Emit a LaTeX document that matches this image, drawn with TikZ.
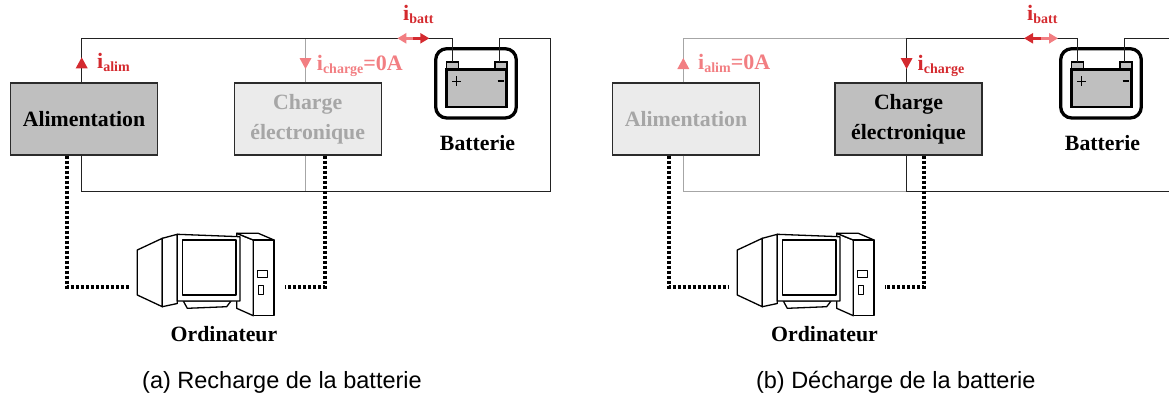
\documentclass[tikz,border=0pt]{standalone}
\usepackage{fontspec}
\setmainfont{Liberation Serif}
\setsansfont{Liberation Sans}
\usetikzlibrary{arrows.meta}

\definecolor{curred}{HTML}{D42A2F}
\definecolor{curpink}{HTML}{F27E82}
\definecolor{boxdark}{HTML}{BFBFBF}
\definecolor{boxlight}{HTML}{EBEBEB}
\definecolor{txtlight}{HTML}{A6A6A6}
\definecolor{wiregrey}{HTML}{A6A6A6}
\definecolor{wireblack}{HTML}{222222}
\definecolor{edgecol}{HTML}{2B2B2B}

% current label: i with a small subscript, then an optional suffix
\newcommand\ilbl[2]{i\raisebox{-3pt}{\fontsize{14}{14}\selectfont\bfseries #1}#2}

\tikzset{
  wire/.style={line width=1.1pt, draw=wireblack},
  wireoff/.style={line width=1.1pt, draw=wiregrey},
  unit/.style={draw=edgecol, line width=1.4pt, minimum width=147pt, minimum height=72pt,
    inner sep=0pt, align=center, font=\fontsize{21.8}{30}\selectfont\bfseries},
  uniton/.style={unit, fill=boxdark, text=black},
  unitoff/.style={unit, fill=boxlight, text=txtlight},
  devname/.style={font=\fontsize{21.8}{24}\selectfont\bfseries, inner sep=0pt},
  datalink/.style={line width=3.6pt, dash pattern=on 3pt off 2pt},
  lbl/.style={font=\fontsize{22}{24}\selectfont\bfseries, anchor=base west, inner sep=0pt},
  caption/.style={font=\sffamily\fontsize{23.5}{26}\selectfont, inner sep=0pt},
  battflow/.style={line width=3pt, -{Triangle[length=9pt,width=10pt]}},
  flowup/.pic={\fill (-6,5.5) -- (6,5.5) -- (0,-5.5) -- cycle;},
  flowdown/.pic={\fill (-6,-5.5) -- (6,-5.5) -- (0,5.5) -- cycle;},
  battery/.pic={
    \draw[line width=3.3pt, rounded corners=11pt] (-40.3,-34.6) rectangle (40.3,34.7);
    \filldraw[fill=boxdark, line width=1.4pt] (-29.5,-21.5) rectangle (-17.5,-15);
    \filldraw[fill=boxdark, line width=1.4pt] (19,-21.5) rectangle (31,-15);
    \filldraw[fill=boxdark, line width=2.3pt] (-29.5,-13.8) rectangle (30.5,23.9);
    \draw[line width=0.9pt] (-24,-2.3) -- (-14.6,-2.3) (-19.3,-7) -- (-19.3,2.4);
    \draw[line width=2pt] (21.5,-2.3) -- (28,-2.3);
    \coordinate (-plus) at (-23.5,-21.5);
    \coordinate (-minus) at (23.5,-21.5);
  },
  computer/.pic={
    \begin{scope}[line width=1.3pt, line join=round, fill=white]
      % tower
      \filldraw (236.7,233.3) -- (253.3,240) -- (253.3,315.7) -- (236.7,308.3) -- cycle;
      \filldraw (236.7,233.3) -- (258.3,233.3) -- (274,240) -- (253.3,240) -- cycle;
      \filldraw (253.3,240) rectangle (274,315.7);
      \draw[line width=1pt] (257.7,270.7) rectangle (267.7,277.7);
      \draw[line width=1pt] (258.3,285.7) rectangle (263.3,294);
      % monitor
      \filldraw (137.3,250) -- (162.3,238.3) -- (162.3,306.7) -- (137.3,295) -- cycle;
      \filldraw (162.3,238.3) -- (177.3,234.3) -- (177.3,303.5) -- (162.3,306.7) -- cycle;
      \filldraw (183.3,301) -- (187.3,308.3) -- (226.7,306.7) -- (231,301) -- cycle;
      \filldraw (177.3,234.3) -- (240,236.7) -- (240,301) -- (177.3,301) -- cycle;
      \draw (182.3,240) rectangle (236,295);
    \end{scope}
    \coordinate (-left) at (129,287);
    \coordinate (-right) at (285,287);
  },
}

\begin{document}
\begin{tikzpicture}[x=1pt, y=-1pt]
\useasboundingbox (0,0) rectangle (1169,397);
\clip (0,0) rectangle (1169,397);

% ---------- (a) battery charging ----------
\node[uniton] (alimA) at (84,119) {Alimentation};
\node[unitoff] (chgA) at (307.7,119) {Charge\\électronique};
\pic (batA) at (476,83.3) {battery};
\node[devname] (batlblA) at (477.5,143) {Batterie};
\pic (pcA) at (0,0) {computer};
\node[devname] (pclblA) at (224,334) {Ordinateur};

\coordinate (tlA) at (81.7,38.3);
\coordinate (blA) at (81.7,191.7);
\coordinate (brA) at (550.7,191.7);
\coordinate (trA) at (550.7,38.3);

\draw[wireoff] ([xshift=-2.2pt]chgA.north) -- ([xshift=-2.2pt]chgA.north |- tlA);
\draw[wireoff] ([xshift=-2.2pt]chgA.south) -- ([xshift=-2.2pt]chgA.south |- blA);
\draw[wire] ([xshift=-2.3pt]alimA.north) -- (tlA) -| (batA-plus);
\draw[wire] ([xshift=-2.3pt]alimA.south) -- (blA) -- (brA) -- (trA) -| (batA-minus);

\draw[datalink] ([xshift=-17pt]alimA.south) |- (pcA-left);
\draw[datalink] ([xshift=17.3pt]chgA.south) |- (pcA-right);

\pic[curred] at (81.7,62.8) {flowup};
\pic[curpink] at (305.5,63.5) {flowdown};
\node[lbl, text=curred] (ialimA) at (97,68.3) {\ilbl{alim}{}};
\node[lbl, text=curpink] (ichgA) at (316.7,70.7) {\ilbl{charge}{=0A}};

\coordinate (ibAl) at (397.3,38.3);
\coordinate (ibAm) at (413.3,38.3);
\coordinate (ibAr) at (429.3,38.3);
\draw[battflow, curpink] (ibAm) -- (ibAl);
\draw[battflow, curred] (ibAm) -- (ibAr);
\node[lbl, text=curred] (ibattA) at (403,20.7) {\ilbl{batt}{}};

\node[caption] (capA) at (282,382) {(a) Recharge de la batterie};

% ---------- (b) battery discharging ----------
\node[unitoff] (alimB) at (686,119) {Alimentation};
\node[uniton] (chgB) at (908.5,119) {Charge\\électronique};
\pic (batB) at (1101,83.3) {battery};
\node[devname] (batlblB) at (1102.5,143) {Batterie};
\pic (pcB) at (600,0) {computer};
\node[devname] (pclblB) at (824.5,334) {Ordinateur};

\coordinate (tlB) at (683.3,38.3);
\coordinate (blB) at (683.3,191.7);
\coordinate (tmB) at (906.6,38.3);
\coordinate (bmB) at (906.6,191.7);
\coordinate (brB) at (1175.7,191.7);
\coordinate (trB) at (1175.7,38.3);

\draw[wireoff] ([xshift=-2.7pt]alimB.north) -- (tlB) -- (tmB);
\draw[wireoff] ([xshift=-2.7pt]alimB.south) -- (blB) -- (bmB);
\draw[wire] ([xshift=-1.9pt]chgB.north) -- (tmB) -| (batB-plus);
\draw[wire] ([xshift=-1.9pt]chgB.south) -- (bmB) -- (brB) -- (trB) -| (batB-minus);

\draw[datalink] ([xshift=-17pt]alimB.south) |- (pcB-left);
\draw[datalink] ([xshift=15.5pt]chgB.south) |- (pcB-right);

\pic[curpink] at (683.3,63.5) {flowup};
\pic[curred] at (906.6,63.5) {flowdown};
\node[lbl, text=curpink] (ialimB) at (698,69) {\ilbl{alim}{=0A}};
\node[lbl, text=curred] (ichgB) at (917.5,70.7) {\ilbl{charge}{}};

\coordinate (ibBl) at (1024,38.3);
\coordinate (ibBm) at (1041,38.3);
\coordinate (ibBr) at (1058,38.3);
\draw[battflow, curred] (ibBm) -- (ibBl);
\draw[battflow, curpink] (ibBm) -- (ibBr);
\node[lbl, text=curred] (ibattB) at (1027,20.7) {\ilbl{batt}{}};

\node[caption] (capB) at (895.8,382) {(b) Décharge de la batterie};
\end{tikzpicture}
\end{document}
